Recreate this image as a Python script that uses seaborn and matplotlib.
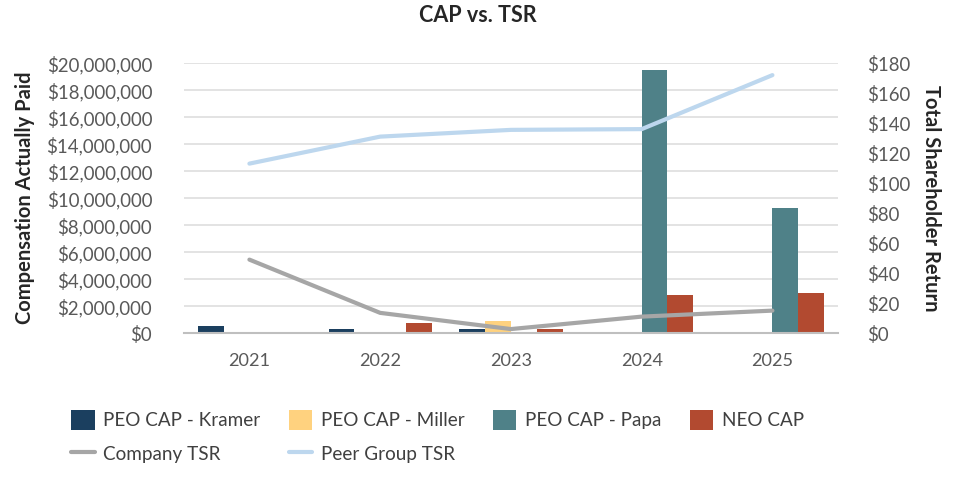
import numpy as np
import pandas as pd
import matplotlib
matplotlib.use('Agg')
import matplotlib.pyplot as plt
import matplotlib.ticker as mticker
from matplotlib.patches import Patch
from matplotlib.lines import Line2D
import seaborn as sns

# ---------------------------------------------------------------------------
# data
# ---------------------------------------------------------------------------
years = ['2021', '2022', '2023', '2024', '2025']
series = ['PEO CAP - Kramer', 'PEO CAP - Miller', 'PEO CAP - Papa', 'NEO CAP']
cap_kramer = [500000, 300000, 300000, 0, 0]
cap_miller = [0, 0, 900000, 0, 0]
cap_papa = [0, 0, 0, 19500000, 9300000]
cap_neo = [0, 750000, 300000, 2850000, 3000000]
company_tsr = [49, 13.5, 2.7, 11, 15]
peer_tsr = [113, 131, 135.5, 136, 172]

colors = {'PEO CAP - Kramer': '#1B3F5F', 'PEO CAP - Miller': '#FFD27F',
          'PEO CAP - Papa': '#4F8188', 'NEO CAP': '#B24A30'}
col_company = '#A6A6A6'
col_peer = '#BDD7EE'

rows = []
for name, vals in zip(series, [cap_kramer, cap_miller, cap_papa, cap_neo]):
    for yr, v in zip(years, vals):
        rows.append({'Year': yr, 'Series': name, 'CAP': v})
df = pd.DataFrame(rows)

sns.set_theme(style='white')
plt.rcParams['font.family'] = ['Lato', 'DejaVu Sans']
tick_col = '#595959'
label_col = '#262626'

fig = plt.figure(figsize=(9.6, 4.8), dpi=100)
ax = fig.add_axes([0.1917, 0.306, 0.681, 0.5625])

sns.barplot(data=df, x='Year', y='CAP', hue='Series', hue_order=series,
            palette=colors, width=0.79, linewidth=0, saturation=1,
            legend=False, ax=ax)

ax.set_ylim(0, 20000000)
ax.yaxis.set_major_locator(mticker.MultipleLocator(2000000))
ax.yaxis.set_major_formatter(mticker.FuncFormatter(lambda v, p: f'${v:,.0f}'))
ax.grid(axis='y', color='#DEDEDE', lw=1.2)
ax.set_axisbelow(True)
for s in ['top', 'right', 'left']:
    ax.spines[s].set_visible(False)
ax.spines['bottom'].set_color('#BFBFBF')
ax.spines['bottom'].set_linewidth(1.5)
ax.tick_params(axis='y', colors=tick_col, labelsize=13.4, length=0, pad=23)
ax.tick_params(axis='x', colors=tick_col, labelsize=13.1, length=0, pad=14)
ax.set_xlabel('')
ax.set_ylabel('Compensation Actually Paid', fontsize=14.5, fontweight='bold',
              color=label_col, labelpad=8)

ax2 = ax.twinx()
xpos = np.arange(len(years))
sns.lineplot(x=xpos, y=company_tsr, color=col_company, lw=3, ax=ax2)
sns.lineplot(x=xpos, y=peer_tsr, color=col_peer, lw=3, ax=ax2)
ax2.set_ylim(0, 180)
ax2.yaxis.set_major_locator(mticker.MultipleLocator(20))
ax2.yaxis.set_major_formatter(mticker.FuncFormatter(lambda v, p: f'${v:,.0f}'))
for s in ['top', 'right', 'left', 'bottom']:
    ax2.spines[s].set_visible(False)
ax2.tick_params(axis='y', colors=tick_col, labelsize=13.4, length=0, pad=21)
ax2.grid(False)
ax2.set_ylabel('Total Shareholder Return', fontsize=14.5, fontweight='bold',
               color=label_col, rotation=-90, labelpad=22)
ax.set_xlim(-0.5, len(years) - 0.5)

fig.suptitle('CAP vs. TSR', fontsize=15.5, fontweight='bold', color=label_col,
             x=0.498, y=0.99)

# legend laid out row by row (matplotlib fills columns first)
h = {name: Patch(facecolor=colors[name], edgecolor='none') for name in series}
l_comp = Line2D([], [], color=col_company, lw=3)
l_peer = Line2D([], [], color=col_peer, lw=3)
handles = [h[series[0]], l_comp, h[series[1]], l_peer, h[series[2]], h[series[3]]]
labels = [series[0], 'Company TSR', series[1], 'Peer Group TSR', series[2], series[3]]
fig.legend(handles, labels, ncol=4, loc='upper left', bbox_to_anchor=(0.066, 0.162),
           frameon=False, fontsize=13.6, handlelength=1.25, handleheight=1.25,
           handletextpad=0.45, columnspacing=1.5, labelspacing=0.72,
           labelcolor='#404040', borderaxespad=0)

fig.savefig('out.png', dpi=100)
